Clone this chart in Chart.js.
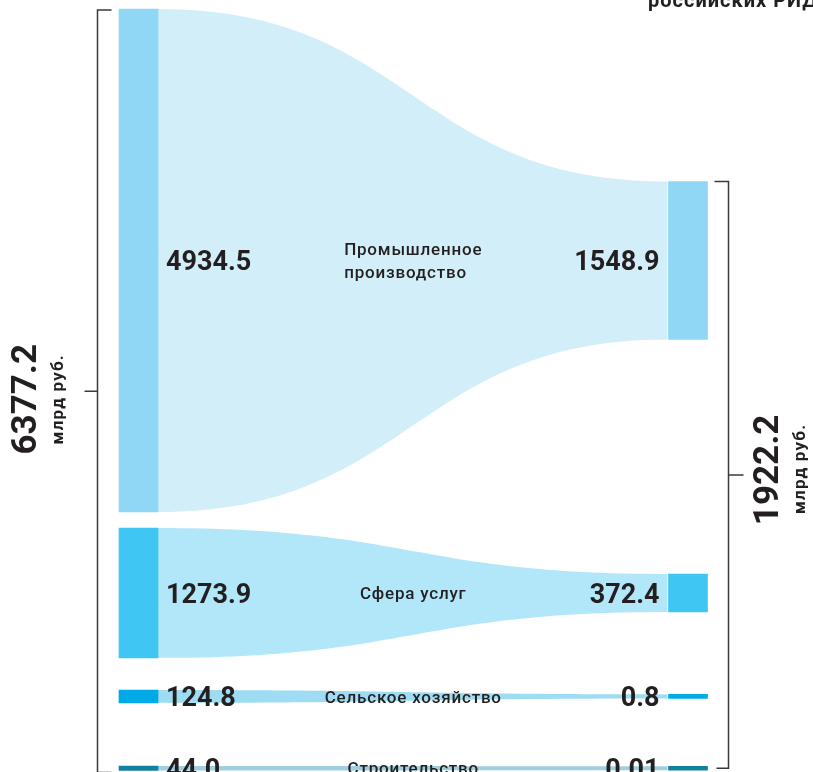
<!DOCTYPE html>
<html>
<head>
<meta charset="utf-8">
<script src="https://cdn.jsdelivr.net/npm/chart.js@4.4.1/dist/chart.umd.min.js"></script>
<style>
  html, body { margin: 0; padding: 0; background: #fff; }
  #wrap { position: relative; width: 813px; height: 772px; }
</style>
</head>
<body>
<div id="wrap"><canvas id="chart"></canvas></div>
<script>
// data (млрд руб.)
const sectors = [['Промышленное', 'производство'], ['Сфера услуг'], ['Сельское хозяйство'], ['Строительство']];
const leftValues = [4934.5, 1273.9, 124.8, 44.0];
const rightValues = [1548.9, 372.4, 0.8, 0.01];
const totals = [6377.2, 1922.2];
const unitLabel = 'млрд руб.';
const titleTail = 'российских РИД';

const barColors = ['#8fd7f5', '#40c6f2', '#00aae6', '#12809f'];
const flowColors = ['#d2eef9', '#b1e7f9', '#9ddcf3', '#a0cfdf'];
const ink = '#231f20';

// vertical layout (value units): empty space above each band
const gaps = [0, 157, 316, 620];
const minUnits = 40; // tiny right bars get minBarLength, keep them centred

let cursor = 0;
const leftRanges = [];
const rightRanges = [];
leftValues.forEach((v, i) => {
  cursor += gaps[i];
  leftRanges.push([cursor, cursor + v]);
  const mid = cursor + v / 2;
  const shown = Math.max(rightValues[i], minUnits);
  rightRanges.push([mid - shown / 2, mid - shown / 2 + rightValues[i]]);
  cursor += v;
});

const box = el => ({
  top: Math.min(el.y, el.base),
  bottom: Math.max(el.y, el.base),
  left: el.x - el.width / 2,
  right: el.x + el.width / 2
});

// ribbons between the two columns
const flowPlugin = {
  id: 'flows',
  beforeDatasetsDraw(chart) {
    const ctx = chart.ctx;
    ctx.save();
    chart.data.datasets.forEach((ds, i) => {
      const [l, r] = chart.getDatasetMeta(i).data.map(box);
      const x0 = l.right, x1 = r.left - 1;
      const xm = (x0 + x1) / 2;
      ctx.beginPath();
      ctx.moveTo(x0, l.top);
      ctx.bezierCurveTo(xm, l.top, xm, r.top, x1, r.top);
      ctx.lineTo(x1, r.bottom);
      ctx.bezierCurveTo(xm, r.bottom, xm, l.bottom, x0, l.bottom);
      ctx.closePath();
      ctx.fillStyle = flowColors[i];
      ctx.fill();
    });
    ctx.restore();
  }
};

const labelPlugin = {
  id: 'labels',
  afterDatasetsDraw(chart) {
    const ctx = chart.ctx;
    const bars = chart.data.datasets.map((ds, i) => chart.getDatasetMeta(i).data.map(box));
    ctx.save();
    ctx.fillStyle = ink;

    bars.forEach(([l, r], i) => {
      const cy = (l.top + l.bottom) / 2;
      ctx.font = 'bold 27px Roboto';
      ctx.letterSpacing = '0px';
      ctx.textBaseline = 'middle';
      ctx.textAlign = 'left';
      ctx.fillText(leftValues[i].toFixed(1), l.right + 8, cy + 3);
      ctx.textAlign = 'right';
      ctx.fillText(String(rightValues[i]), r.left - 9, cy + 3);

      // sector name between the columns
      ctx.font = '500 17px Roboto';
      ctx.letterSpacing = '0.8px';
      const cx = (l.right + r.left) / 2;
      const lines = sectors[i];
      const lh = 23;
      const w = Math.max(...lines.map(s => ctx.measureText(s).width));
      ctx.textAlign = 'left';
      lines.forEach((s, k) => {
        ctx.fillText(s, cx - w / 2, cy + 2 + (k - (lines.length - 1) / 2) * lh);
      });
    });

    // brackets
    ctx.strokeStyle = '#3a3a3a';
    ctx.lineWidth = 1.5;
    const L0 = bars[0][0], Ln = bars[bars.length - 1][0];
    const R0 = bars[0][1], Rn = bars[bars.length - 1][1];
    const lx = L0.left - 21.5, lt = L0.top + 1, lb = Ln.bottom + 2;
    ctx.beginPath();
    ctx.moveTo(lx + 14, lt); ctx.lineTo(lx, lt); ctx.lineTo(lx, lb); ctx.lineTo(lx + 14, lb);
    ctx.moveTo(lx, (lt + lb) / 2); ctx.lineTo(lx - 13, (lt + lb) / 2);
    ctx.stroke();
    const rx = R0.right + 21, rt = R0.top, rb = Rn.bottom - 2;
    ctx.beginPath();
    ctx.moveTo(rx - 14, rt); ctx.lineTo(rx, rt); ctx.lineTo(rx, rb); ctx.lineTo(rx - 12, rb);
    ctx.moveTo(rx, (rt + rb) / 2); ctx.lineTo(rx + 15, (rt + rb) / 2);
    ctx.stroke();

    // totals, written upwards
    const vertical = (text, font, spacing, x, y) => {
      ctx.save();
      ctx.translate(x, y);
      ctx.rotate(-Math.PI / 2);
      ctx.font = font;
      ctx.letterSpacing = spacing;
      ctx.textAlign = 'center';
      ctx.textBaseline = 'alphabetic';
      ctx.fillText(text, 0, 0);
      ctx.restore();
    };
    const lm = (lt + lb) / 2, rm = (rt + rb) / 2;
    vertical(totals[0].toFixed(1), 'bold 35px Roboto', '0px', lx - 62, lm + 8);
    vertical(unitLabel, 'bold 17px Roboto', '1.2px', lx - 35, lm + 8);
    vertical(totals[1].toFixed(1), 'bold 35px Roboto', '0px', rx + 49, rm - 5);
    vertical(unitLabel, 'bold 17px Roboto', '1.2px', rx + 76, rm - 6);

    // tail of the headline, cut by the top edge
    ctx.font = 'bold 20px Roboto';
    ctx.letterSpacing = '1px';
    ctx.textAlign = 'left';
    ctx.textBaseline = 'alphabetic';
    ctx.fillText(titleTail, 648, 7);
    ctx.restore();
  }
};

new Chart(document.getElementById('chart'), {
  type: 'bar',
  data: {
    labels: ['затраты', 'выход'],
    datasets: sectors.map((name, i) => ({
      label: name.join(' '),
      data: [leftRanges[i], rightRanges[i]],
      backgroundColor: barColors[i],
      borderWidth: 0,
      barThickness: 39,
      minBarLength: 4,
      grouped: false,
      clip: false
    }))
  },
  options: {
    responsive: true,
    maintainAspectRatio: false,
    animation: false,
    layout: { padding: { left: 138.5, right: 125, top: 9, bottom: 0 } },
    scales: {
      x: { type: 'category', offset: false, display: false },
      y: { type: 'linear', reverse: true, min: 0, max: 7485, display: false }
    },
    plugins: {
      legend: { display: false },
      tooltip: { enabled: false }
    }
  },
  plugins: [flowPlugin, labelPlugin]
});
</script>
</body>
</html>
